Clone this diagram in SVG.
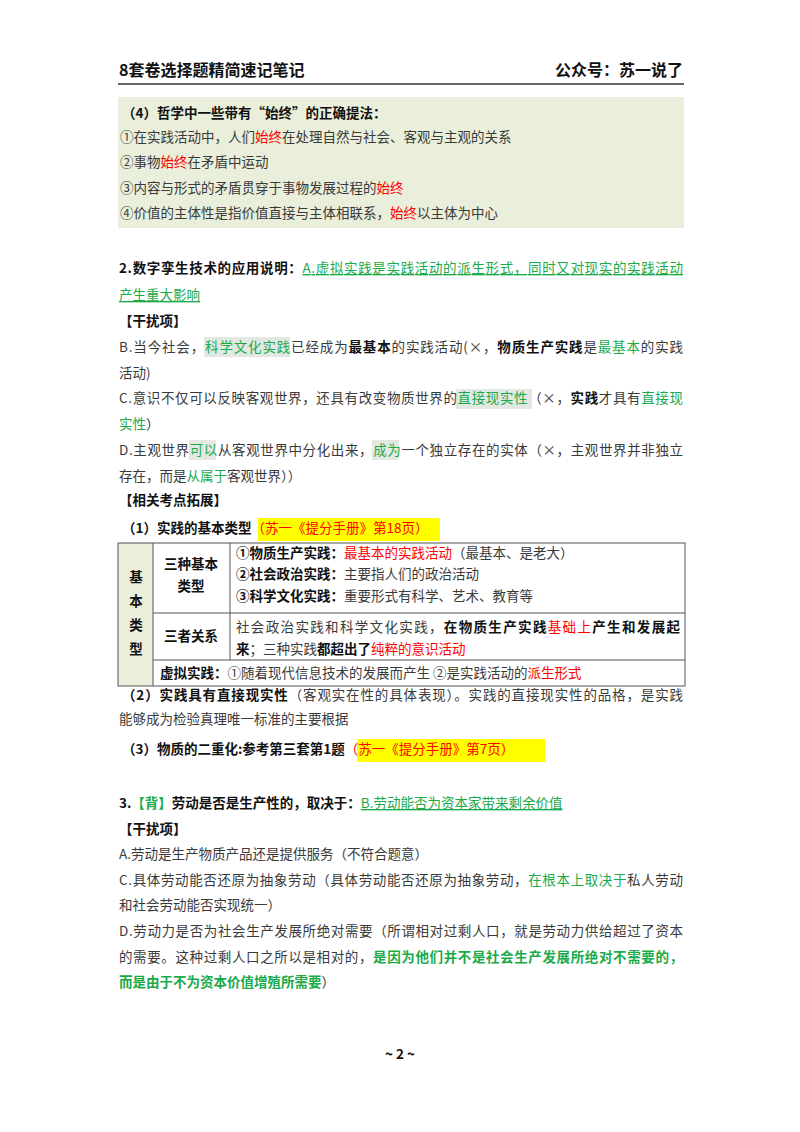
<svg xmlns="http://www.w3.org/2000/svg" width="800" height="1132" viewBox="0 0 800 1132">
<style>
text{font-family:"Noto Sans CJK SC","Liberation Serif",serif;font-size:13.5px;fill:#3a3a3a}
.b{font-weight:bold;fill:#111}
.r{fill:#ff0000}
.g{fill:#1aaa4a}
.h{font-size:16px;font-weight:bold;fill:#111}
.u{text-decoration:underline}
</style>
<rect width="800" height="1132" fill="#fff"/>
<g id="header">
<text class="h" x="119" y="76">8套卷选择题精简速记笔记</text>
<text class="h" x="683" y="76" text-anchor="end">公众号：苏一说了</text>
<rect x="118" y="83" width="566" height="2" fill="#666"/>
</g>
<g id="box4">
<rect x="118" y="97" width="566" height="131" fill="#e9efda"/>
<text x="122" y="118" class="b">（4）哲学中一些带有“始终”的正确提法：</text>
<text x="120" y="142">①在实践活动中，人们<tspan class="r">始终</tspan>在处理自然与社会、客观与主观的关系</text>
<text x="120" y="167">②事物<tspan class="r">始终</tspan>在矛盾中运动</text>
<text x="120" y="193">③内容与形式的矛盾贯穿于事物发展过程的<tspan class="r">始终</tspan></text>
<text x="120" y="218">④价值的主体性是指价值直接与主体相联系，<tspan class="r">始终</tspan>以主体为中心</text>
</g>
<g id="q2">
<rect x="204" y="337" width="86" height="20" fill="#e3e8e3"/>
<rect x="456" y="389" width="76" height="20" fill="#e3e8e3"/>
<rect x="189" y="440" width="27" height="20" fill="#e3e8e3"/>
<rect x="372" y="440" width="27" height="20" fill="#e3e8e3"/>
<text x="119" y="273" textLength="564" lengthAdjust="spacing"><tspan class="b">2.数字孪生技术的应用说明：</tspan><tspan class="g u">A.虚拟实践是实践活动的派生形式，同时又对现实的实践活动</tspan></text>
<text x="119" y="300" class="g u">产生重大影响</text>
<text x="119" y="326" class="b">【干扰项】</text>
<text x="119" y="352" textLength="564" lengthAdjust="spacing">B.当今社会，<tspan class="g">科学文化实践</tspan>已经成为<tspan class="b">最基本</tspan>的实践活动(×，<tspan class="b">物质生产实践</tspan>是<tspan class="g">最基本</tspan>的实践</text>
<text x="119" y="378">活动)</text>
<text x="119" y="403" textLength="564" lengthAdjust="spacing">C.意识不仅可以反映客观世界，还具有改变物质世界的<tspan class="g">直接现实性</tspan>（×，<tspan class="b">实践</tspan>才具有<tspan class="g">直接现</tspan></text>
<text x="119" y="429"><tspan class="g">实性</tspan>）</text>
<text x="119" y="455" textLength="564" lengthAdjust="spacing">D.主观世界<tspan class="g">可以</tspan>从客观世界中分化出来，<tspan class="g">成为</tspan>一个独立存在的实体（×，主观世界并非独立</text>
<text x="119" y="481">存在，而是<tspan class="g">从属于</tspan>客观世界））</text>
<text x="119" y="505" class="b">【相关考点拓展】</text>
</g>
<g id="p1">
<rect x="258" y="518" width="182" height="23" fill="#ffff00"/>
<text x="122" y="533"><tspan class="b">（1）实践的基本类型</tspan><tspan class="r">（苏一《提分手册》第18页）</tspan></text>
</g>
<g id="table">
<rect x="118" y="543" width="35" height="143" fill="#e9efda"/>
<rect x="118" y="543" width="567" height="143" fill="none" stroke="#555" stroke-width="1"/>
<line x1="153" y1="543" x2="153" y2="686" stroke="#555"/>
<line x1="230" y1="543" x2="230" y2="660" stroke="#555"/>
<line x1="153" y1="613" x2="685" y2="613" stroke="#555"/>
<line x1="153" y1="660" x2="685" y2="660" stroke="#555"/>
<text x="136" y="582" text-anchor="middle" class="b">基</text>
<text x="136" y="606" text-anchor="middle" class="b">本</text>
<text x="136" y="630" text-anchor="middle" class="b">类</text>
<text x="136" y="654" text-anchor="middle" class="b">型</text>
<text x="191" y="569" text-anchor="middle" class="b">三种基本</text>
<text x="191" y="591" text-anchor="middle" class="b">类型</text>
<text x="191" y="641" text-anchor="middle" class="b">三者关系</text>
<text x="236" y="558"><tspan class="b">①物质生产实践：</tspan><tspan class="r">最基本的实践活动</tspan>（最基本、是老大）</text>
<text x="236" y="579"><tspan class="b">②社会政治实践：</tspan>主要指人们的政治活动</text>
<text x="236" y="601"><tspan class="b">③科学文化实践：</tspan>重要形式有科学、艺术、教育等</text>
<text x="236" y="632" textLength="444" lengthAdjust="spacing">社会政治实践和科学文化实践，<tspan class="b">在物质生产实践</tspan><tspan class="r">基础上</tspan><tspan class="b">产生和发展起</tspan></text>
<text x="236" y="654"><tspan class="b">来</tspan>；三种实践<tspan class="b">都超出了</tspan><tspan class="r">纯粹的意识活动</tspan></text>
<text x="160" y="678"><tspan class="b">虚拟实践：</tspan>①随着现代信息技术的发展而产生 ②是实践活动的<tspan class="r">派生形式</tspan></text>
</g>
<g id="p2">
<text x="122" y="700" textLength="561" lengthAdjust="spacing"><tspan class="b">（2）实践具有直接现实性</tspan>（客观实在性的具体表现）。实践的直接现实性的品格，是实践</text>
<text x="119" y="724">能够成为检验真理唯一标准的主要根据</text>
<rect x="357" y="739" width="188" height="23" fill="#ffff00"/>
<text x="122" y="754"><tspan class="b">（3）物质的二重化:参考第三套第1题</tspan><tspan class="r">（苏一《提分手册》第7页）</tspan></text>
</g>
<g id="q3">
<text x="119" y="808" class="b">3.<tspan class="g">【背】</tspan>劳动是否是生产性的，取决于：<tspan class="g u" font-weight="normal">B.劳动能否为资本家带来剩余价值</tspan></text>
<text x="119" y="834" class="b">【干扰项】</text>
<text x="119" y="859">A.劳动是生产物质产品还是提供服务（不符合题意）</text>
<text x="119" y="885" textLength="564" lengthAdjust="spacing">C.具体劳动能否还原为抽象劳动（具体劳动能否还原为抽象劳动，<tspan class="g">在根本上取决于</tspan>私人劳动</text>
<text x="119" y="910">和社会劳动能否实现统一）</text>
<text x="119" y="936" textLength="564" lengthAdjust="spacing">D.劳动力是否为社会生产发展所绝对需要（所谓相对过剩人口，就是劳动力供给超过了资本</text>
<text x="119" y="962" textLength="564" lengthAdjust="spacing">的需要。这种过剩人口之所以是相对的，<tspan class="g" font-weight="bold">是因为他们并不是社会生产发展所绝对不需要的，</tspan></text>
<text x="119" y="987"><tspan class="g" font-weight="bold">而是由于不为资本价值增殖所需要</tspan>）</text>
</g>
<g id="footer">
<text x="400" y="1059" text-anchor="middle" class="b" font-size="15">~ 2 ~</text>
</g>
</svg>
